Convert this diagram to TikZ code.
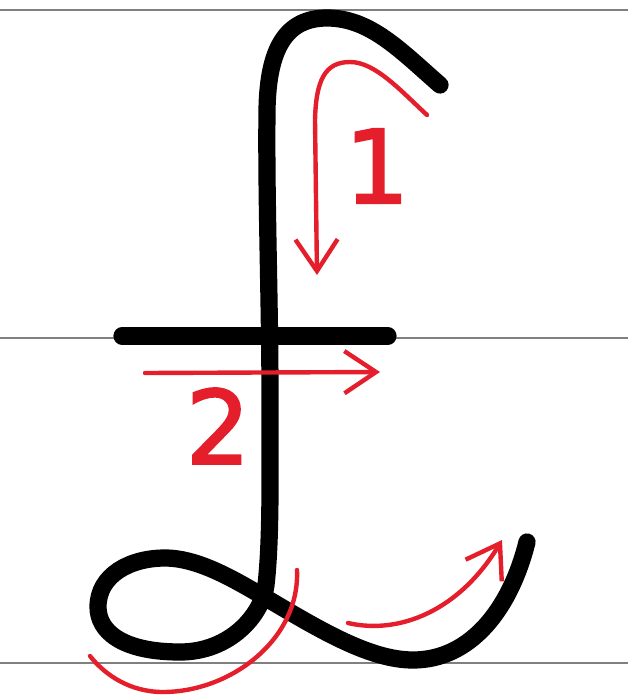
\documentclass[tikz,border=0pt]{standalone}
\usepackage{fontspec}
\usepackage{tikz}
\usepackage{xcolor}
\usetikzlibrary{arrows.meta}
\newfontfamily\stepfont[FakeBold=2]{DejaVu Sans}
\definecolor{Guide}{HTML}{808080}
\definecolor{Ink}{HTML}{000000}
\definecolor{Hint}{HTML}{E41E2B}

\begin{document}
\begin{tikzpicture}[
  x=0.01cm,y=-0.01cm,
  guide/.style={draw=Guide,line width=0.75pt},
  ink/.style={draw=Ink,line width=4.9pt,line cap=round,line join=round},
  hint/.style={draw=Hint,line width=1.25pt,line cap=round},
  hintarrow/.style={hint,-{Straight Barb[length=9pt,width=12pt,line width=1.25pt]}},
  stepnum/.style={text=Hint,font=\stepfont\fontsize{29}{35}\selectfont,inner sep=0pt}
]
\useasboundingbox (0,0) rectangle (628,697);
% writing lines
\draw[guide] (0,10) -- (628,10);
\draw[guide] (0,338) -- (628,338);
\draw[guide] (0,663) -- (628,663);
% the pound sign
\draw[ink] (440,85) .. controls (400,50) and (370,18) .. (327,18)
  .. controls (285,18) and (268,50) .. (267,110)
  .. controls (266,200) and (270,300) .. (270,400)
  .. controls (270,480) and (271,540) .. (266,585)
  .. controls (262,615) and (230,652) .. (180,652)
  .. controls (120,652) and (98,630) .. (98,607)
  .. controls (98,575) and (130,558) .. (165,558)
  .. controls (200,558) and (238,582) .. (266,598)
  .. controls (320,630) and (370,660) .. (413,660)
  .. controls (470,660) and (510,610) .. (527,542);
\draw[ink] (122,336) -- (388,336);
% stroke order hints
\draw[hintarrow] (427,115) .. controls (400,90) and (375,62) .. (350,62)
  .. controls (325,62) and (316,80) .. (315,120) -- (317,275);
\node[stepnum] (one) at (377,166) {1};
\draw[hintarrow] (145,373) -- (380,372);
\node[stepnum] (two) at (218,426) {2};
\draw[hint] (297,570) .. controls (300,640) and (230,692) .. (163,692)
  .. controls (130,692) and (105,675) .. (90,656);
\draw[hintarrow] (348,623) .. controls (400,635) and (460,610) .. (502,540);
\end{tikzpicture}
\end{document}
